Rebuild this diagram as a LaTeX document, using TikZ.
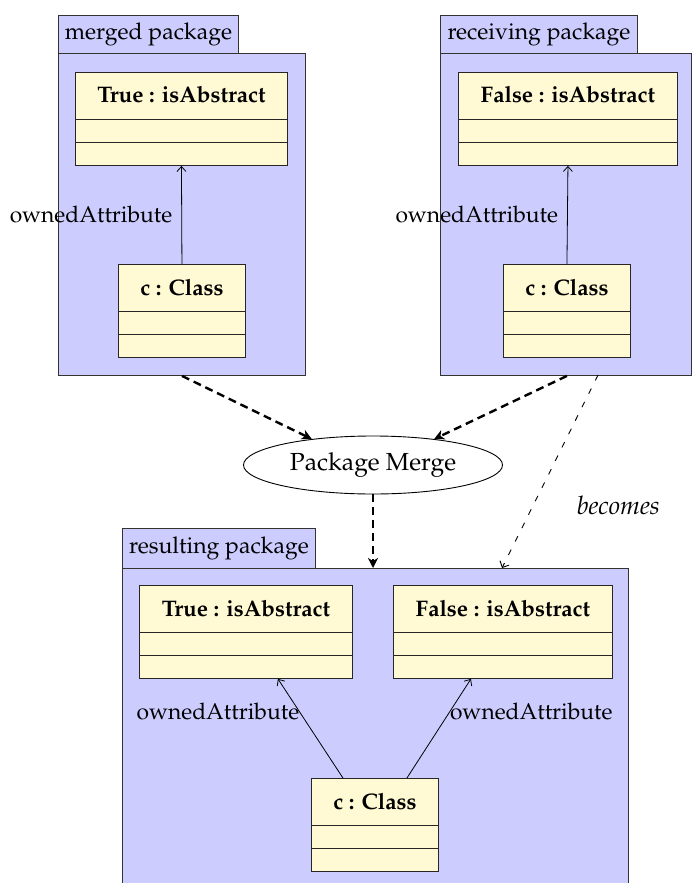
\documentclass[tikz,border=0pt]{standalone}
\usepackage[T1]{fontenc}
\usepackage{mathpazo}
\usetikzlibrary{arrows.meta,calc,shapes.geometric}
\definecolor{pkgblue}{RGB}{204,204,255}
\definecolor{clsyellow}{RGB}{255,250,212}
\newcommand\umlobj[5]{%
  \node[clsbox, minimum width=#4, anchor=north west] (#1) at (#2,#3) {};
  \node[clstitle] (#1t) at ($(#1.north)+(0,23)$) {#5};
  \draw[clsline] ($(#1.north west)+(0,47)$) -- ($(#1.north east)+(0,47)$);
  \draw[clsline] ($(#1.north west)+(0,70)$) -- ($(#1.north east)+(0,70)$);
}
\begin{document}
\begin{tikzpicture}[x=1pt,y=-1pt,
  every node/.style={font=\fontsize{23}{28}\selectfont},
  pkgbox/.style={draw=black!80, fill=pkgblue, line width=0.9pt, inner sep=0pt, rectangle},
  clsbox/.style={draw=black!85, fill=clsyellow, line width=0.9pt, inner sep=0pt, rectangle, minimum height=93pt},
  clstitle/.style={font=\fontsize{22.5}{27}\selectfont\bfseries, inner sep=0pt},
  clsline/.style={draw=black!85, line width=0.9pt},
  assoc/.style={line width=0.8pt, -{Straight Barb[length=5pt,width=9pt]}},
  mergearrow/.style={line width=2.4pt, dash pattern=on 8pt off 5pt, -{Stealth[length=10pt,width=10pt,inset=3pt]}},
  becomesarrow/.style={line width=0.9pt, dash pattern=on 6pt off 9pt, -{Straight Barb[length=5pt,width=10pt]}},
  lbl/.style={inner sep=0pt, font=\fontsize{22.8}{28}\selectfont},
]
\clip (0,0) rectangle (692,883);
\fill[white] (0,0) rectangle (692,883);

% merged package
\node[pkgbox, minimum width=180pt, minimum height=38pt, anchor=north west] (mtab) at (58,15) {merged package};
\node[pkgbox, minimum width=247pt, minimum height=322pt, anchor=north west] (mbody) at (58,53) {};
\umlobj{t1}{75}{72}{212pt}{True : isAbstract}
\umlobj{c1}{118}{264}{127pt}{c : Class}
\draw[assoc] (c1.north) -- node[lbl, anchor=east, xshift=-9pt] {ownedAttribute} (t1.south);

% receiving package
\node[pkgbox, minimum width=197pt, minimum height=38pt, anchor=north west] (rtab) at (440,15) {receiving package};
\node[pkgbox, minimum width=251pt, minimum height=322pt, anchor=north west] (rbody) at (440,53) {};
\umlobj{t2}{458}{72}{219pt}{False : isAbstract}
\umlobj{c2}{503}{264}{127pt}{c : Class}
\draw[assoc] (c2.north) -- node[lbl, anchor=east, xshift=-9pt] {ownedAttribute} (t2.south);

% merge
\node[draw, ellipse, line width=0.9pt, minimum width=259pt, minimum height=58pt, inner sep=0pt, font=\fontsize{24.7}{30}\selectfont] (pm) at (373,465) {Package Merge};

% resulting package
\node[pkgbox, minimum width=193pt, minimum height=40pt, anchor=north west] (stab) at (122,528) {resulting package};
\node[pkgbox, minimum width=506pt, minimum height=360pt, anchor=north west] (sbody) at (122,568) {};
\umlobj{t3}{139}{585}{213pt}{True : isAbstract}
\umlobj{t4}{393}{585}{219pt}{False : isAbstract}
\umlobj{c3}{311}{778}{127pt}{c : Class}
\draw[assoc] ($(c3.north)+(-32,0)$) -- node[lbl, pos=0.667, anchor=east] {ownedAttribute} ($(t3.south)+(32,0)$);
\draw[assoc] ($(c3.north)+(32,0)$) -- node[lbl, pos=0.667, anchor=west] {ownedAttribute} ($(t4.south)+(-32,0)$);

% connectors
\coordinate (ms) at (c1 |- mbody.south);
\coordinate (rs) at (c2 |- rbody.south);
\coordinate (bs) at (598,375);
\coordinate (be) at (502,568);
\coordinate (pe) at (pm |- sbody.north);
\draw[mergearrow] (ms) -- (pm.157);
\draw[mergearrow] (rs) -- (pm.23);
\draw[mergearrow] (pm.south) -- (pe);
\draw[becomesarrow] (bs) -- node[lbl, pos=0.674, anchor=west, xshift=43pt, font=\fontsize{25.5}{30}\selectfont\itshape] {becomes} (be);
\end{tikzpicture}
\end{document}
